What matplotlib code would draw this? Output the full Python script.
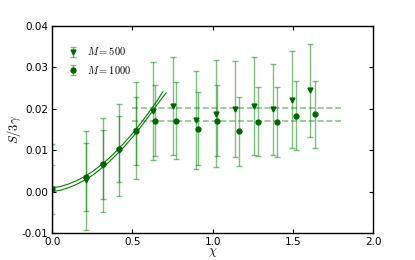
import numpy as np
import matplotlib
matplotlib.use("Agg")
import matplotlib.pyplot as plt

plt.rcParams['mathtext.fontset'] = 'cm'
plt.rcParams['font.family'] = ['DejaVu Sans']

# M = 500 (triangles)
chi_500 = [0.0, 0.208, 0.314, 0.417, 0.521, 0.630, 0.754, 0.893, 1.018, 1.138, 1.259, 1.375, 1.493, 1.606]
s_500 = [0.0005, 0.0027, 0.0064, 0.0100, 0.0147, 0.0194, 0.0206, 0.0172, 0.0188, 0.0199, 0.0206, 0.0198, 0.0222, 0.0244]
err_500 = [0.0110, 0.0120, 0.0114, 0.0112, 0.0118, 0.0119, 0.0118, 0.0118, 0.0129, 0.0116, 0.0119, 0.0110, 0.0118, 0.0113]

# M = 1000 (circles)
chi_1000 = [0.0, 0.208, 0.314, 0.417, 0.521, 0.642, 0.773, 0.906, 1.024, 1.161, 1.280, 1.402, 1.518, 1.637]
s_1000 = [0.0005, 0.0035, 0.0066, 0.0103, 0.0147, 0.0171, 0.0171, 0.0152, 0.0171, 0.0145, 0.0168, 0.0168, 0.0183, 0.0186]
err_1000 = [0.0060, 0.0082, 0.0083, 0.0080, 0.0082, 0.0085, 0.0093, 0.0087, 0.0085, 0.0083, 0.0083, 0.0084, 0.0084, 0.0080]

# small-chi fits
chi_fit = [0.0, 0.05, 0.1, 0.15, 0.2, 0.25, 0.3, 0.35, 0.4, 0.45, 0.5, 0.55, 0.6, 0.65, 0.69]
fit_a = [0.0009, 0.0012, 0.0018, 0.0026, 0.0036, 0.0048, 0.0063, 0.0079, 0.0098, 0.0118, 0.0140, 0.0164, 0.0190, 0.0217, 0.0241]
chi_fit_b = [0.0, 0.05, 0.1, 0.15, 0.2, 0.25, 0.3, 0.35, 0.4, 0.45, 0.5, 0.55, 0.6, 0.65, 0.71]
fit_b = [0.0000, 0.0003, 0.0009, 0.0017, 0.0027, 0.0039, 0.0054, 0.0070, 0.0089, 0.0109, 0.0131, 0.0155, 0.0181, 0.0208, 0.0238]

# plateau levels
plateau_500 = 0.0201
plateau_1000 = 0.0169
plateau_range = [0.5, 1.8]

fig = plt.figure(figsize=(4.15, 2.6), dpi=100)
ax = fig.add_axes([0.126, 0.104, 0.773, 0.797])

ax.errorbar(chi_500, s_500, yerr=err_500, fmt='v', color='#006400', ms=3.5,
            ecolor='g', elinewidth=1, capsize=2, label='$M=500$')
ax.errorbar(chi_1000, s_1000, yerr=err_1000, fmt='o', color='#006400', ms=3.5,
            ecolor='g', elinewidth=1, capsize=2, label='$M=1000$')
for line in ax.collections:
    line.set_alpha(0.5)
for line in ax.lines:
    if line.get_marker() == '_':
        line.set_alpha(0.5)

ax.plot(chi_fit, fit_a, color='g', lw=0.8)
ax.plot(chi_fit_b, fit_b, color='g', lw=0.8)

ax.plot(plateau_range, [plateau_500] * 2, '--', color='g', alpha=0.45, lw=1.2)
ax.plot(plateau_range, [plateau_1000] * 2, '--', color='g', alpha=0.45, lw=1.2)

ax.set_xlim(0, 2.0)
ax.set_ylim(-0.01, 0.04)
ax.set_xticks([0.0, 0.5, 1.0, 1.5, 2.0])
ax.set_yticks([-0.01, 0.0, 0.01, 0.02, 0.03, 0.04])
ax.set_yticklabels(['%.2f' % v for v in [-0.01, 0.0, 0.01, 0.02, 0.03, 0.04]])
ax.tick_params(direction='in', top=True, right=True, length=3, labelsize=7.5, pad=3)
for sp in ax.spines.values():
    sp.set_linewidth(1)

ax.set_xlabel(r'$\chi$', fontsize=9, labelpad=-1)
ax.set_ylabel(r'$S/3\gamma$', fontsize=9, labelpad=-1)

leg = ax.legend(loc='upper left', frameon=False, numpoints=1, fontsize=7.5,
                handlelength=1.0, handletextpad=0.8, labelspacing=0.6,
                bbox_to_anchor=(0.02, 0.95))

fig.savefig('out.png', dpi=100)
